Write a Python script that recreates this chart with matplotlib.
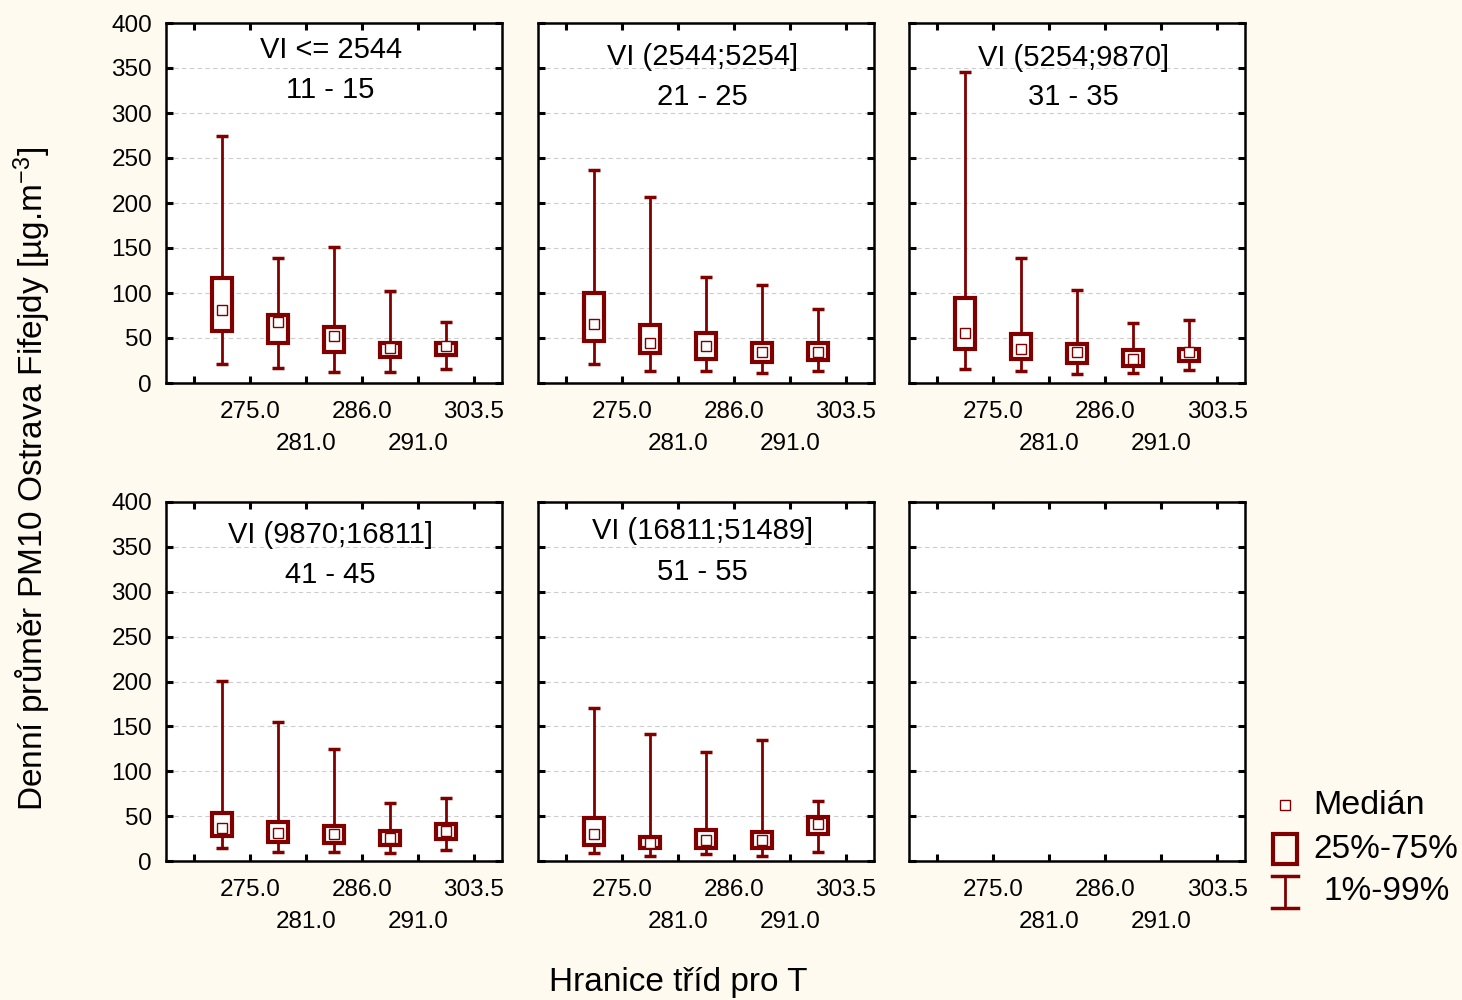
import numpy as np
import matplotlib
matplotlib.use('Agg')
import matplotlib.pyplot as plt

plt.rcParams['font.family'] = ['Liberation Sans', 'DejaVu Sans']
plt.rcParams['mathtext.default'] = 'regular'

# panel headers
vi_labels = ['VI <= 2544', 'VI (2544;5254]', 'VI (5254;9870]', 'VI (9870;16811]', 'VI (16811;51489]']
sub_labels = ['11 - 15', '21 - 25', '31 - 35', '41 - 45', '51 - 55']
t_bounds = ['275.0', '281.0', '286.0', '291.0', '303.5']

# percentiles per panel (rows) and temperature class (cols)
p01 = [[21, 17, 12, 12, 16],
       [21, 13, 13, 11, 13],
       [16, 13, 10, 11, 14],
       [14, 10, 10, 9, 12],
       [9, 6, 7.5, 6, 10]]
q25 = [[58, 44, 35, 29, 31],
       [47, 33, 27, 23, 26],
       [38, 27, 22, 19, 24],
       [28, 21, 20, 18, 25],
       [18, 14, 15, 14, 30]]
med = [[81, 68, 52, 39, 41],
       [66, 45, 41, 34, 35],
       [56, 38, 34, 27, 34],
       [37, 31, 30, 26, 33],
       [30, 20, 23, 23, 41]]
q75 = [[117, 76, 62, 44, 45],
       [100, 64, 56, 44, 45],
       [94, 54, 43, 37, 38],
       [54, 43, 39, 33, 41],
       [48, 27, 35, 32, 49]]
p99 = [[274, 139, 151, 102, 68],
       [237, 207, 118, 109, 82],
       [346, 139, 103, 67, 70],
       [201, 155, 125, 65, 70],
       [171, 141, 121, 135, 67]]

RED = '#800000'
BG = '#fffaef'
W, H = 1462, 1000

fig = plt.figure(figsize=(W / 100, H / 100), dpi=100, facecolor=BG)

col_x = [166, 538, 909]
row_y = [(23, 383), (502, 861)]
title_y = [(0.924, 0.814), (0.905, 0.795), (0.902, 0.794), (0.908, 0.796), (0.919, 0.805)]

# staggered tick labels
xt_labels = [''] + [lab if i % 2 == 0 else '\n' + lab for i, lab in enumerate(t_bounds)]

for k in range(6):
    r, c = divmod(k, 3)
    top, bot = row_y[r]
    ax = fig.add_axes([col_x[c] / W, 1 - bot / H, 336 / W, (bot - top) / H])
    ax.set_facecolor('white')
    ax.set_xlim(-0.5, 5.5)
    ax.set_ylim(0, 400)
    ax.set_xticks(range(6))
    ax.set_xticklabels(xt_labels, fontsize=17.5, linespacing=1.6)
    ax.set_yticks(np.arange(0, 401, 50))
    ax.tick_params(direction='in', length=5, width=2.2, top=True, right=True, labelsize=17.5)
    ax.tick_params(axis='x', pad=13)
    ax.tick_params(axis='y', pad=10)
    if c != 0:
        ax.tick_params(labelleft=False)
    for s in ax.spines.values():
        s.set_linewidth(1.8)
    ax.grid(axis='y', linestyle=(0, (4, 3)), color='#cccccc', linewidth=0.8)
    ax.set_axisbelow(True)

    if k == 5:
        continue

    xs = np.arange(5) + 0.5
    ax.vlines(xs, p01[k], p99[k], color=RED, lw=2, zorder=3)
    ax.hlines(p01[k], xs - 0.1, xs + 0.1, color=RED, lw=2.5, zorder=3)
    ax.hlines(p99[k], xs - 0.1, xs + 0.1, color=RED, lw=2.5, zorder=3)
    heights = np.array(q75[k]) - np.array(q25[k])
    ax.bar(xs, heights, bottom=q25[k], width=0.36, facecolor='white',
           edgecolor=RED, linewidth=3, zorder=4)
    ax.plot(xs, med[k], 's', mfc='white', mec=RED, ms=7, mew=1, zorder=5)

    ty1, ty2 = title_y[k]
    ax.text(0.49, ty1, vi_labels[k], transform=ax.transAxes, ha='center', va='center', fontsize=21)
    ax.text(0.49, ty2, sub_labels[k], transform=ax.transAxes, ha='center', va='center', fontsize=21)

fig.text(32 / W, 1 - 479 / H, 'Denní průměr PM10 Ostrava Fifejdy [µg.m$^{-3}$]',
         rotation=90, ha='center', va='center', fontsize=24)
fig.text(678 / W, 1 - 983 / H, 'Hranice tříd pro T', ha='center', va='center', fontsize=24)

# legend drawn by hand
lg = fig.add_axes([1260 / W, 1 - 920 / H, 202 / W, 140 / H])
lg.set_xlim(1260, 1462)
lg.set_ylim(920, 780)
lg.axis('off')
lg.plot([1285], [805], 's', mfc='white', mec=RED, ms=7, mew=1)
lg.add_patch(plt.Rectangle((1273, 834), 24, 30, fill=False, ec=RED, lw=3))
lg.plot([1285, 1285], [876, 908], color=RED, lw=2)
lg.plot([1272, 1298], [876, 876], color=RED, lw=2.5)
lg.plot([1272, 1298], [908, 908], color=RED, lw=2.5)
lg.text(1313, 805, 'Medián', ha='left', va='center', fontsize=24.5)
lg.text(1313, 850, '25%-75%', ha='left', va='center', fontsize=24)
lg.text(1323, 892, '1%-99%', ha='left', va='center', fontsize=24)

fig.savefig('out.png', dpi=100, facecolor=BG)
